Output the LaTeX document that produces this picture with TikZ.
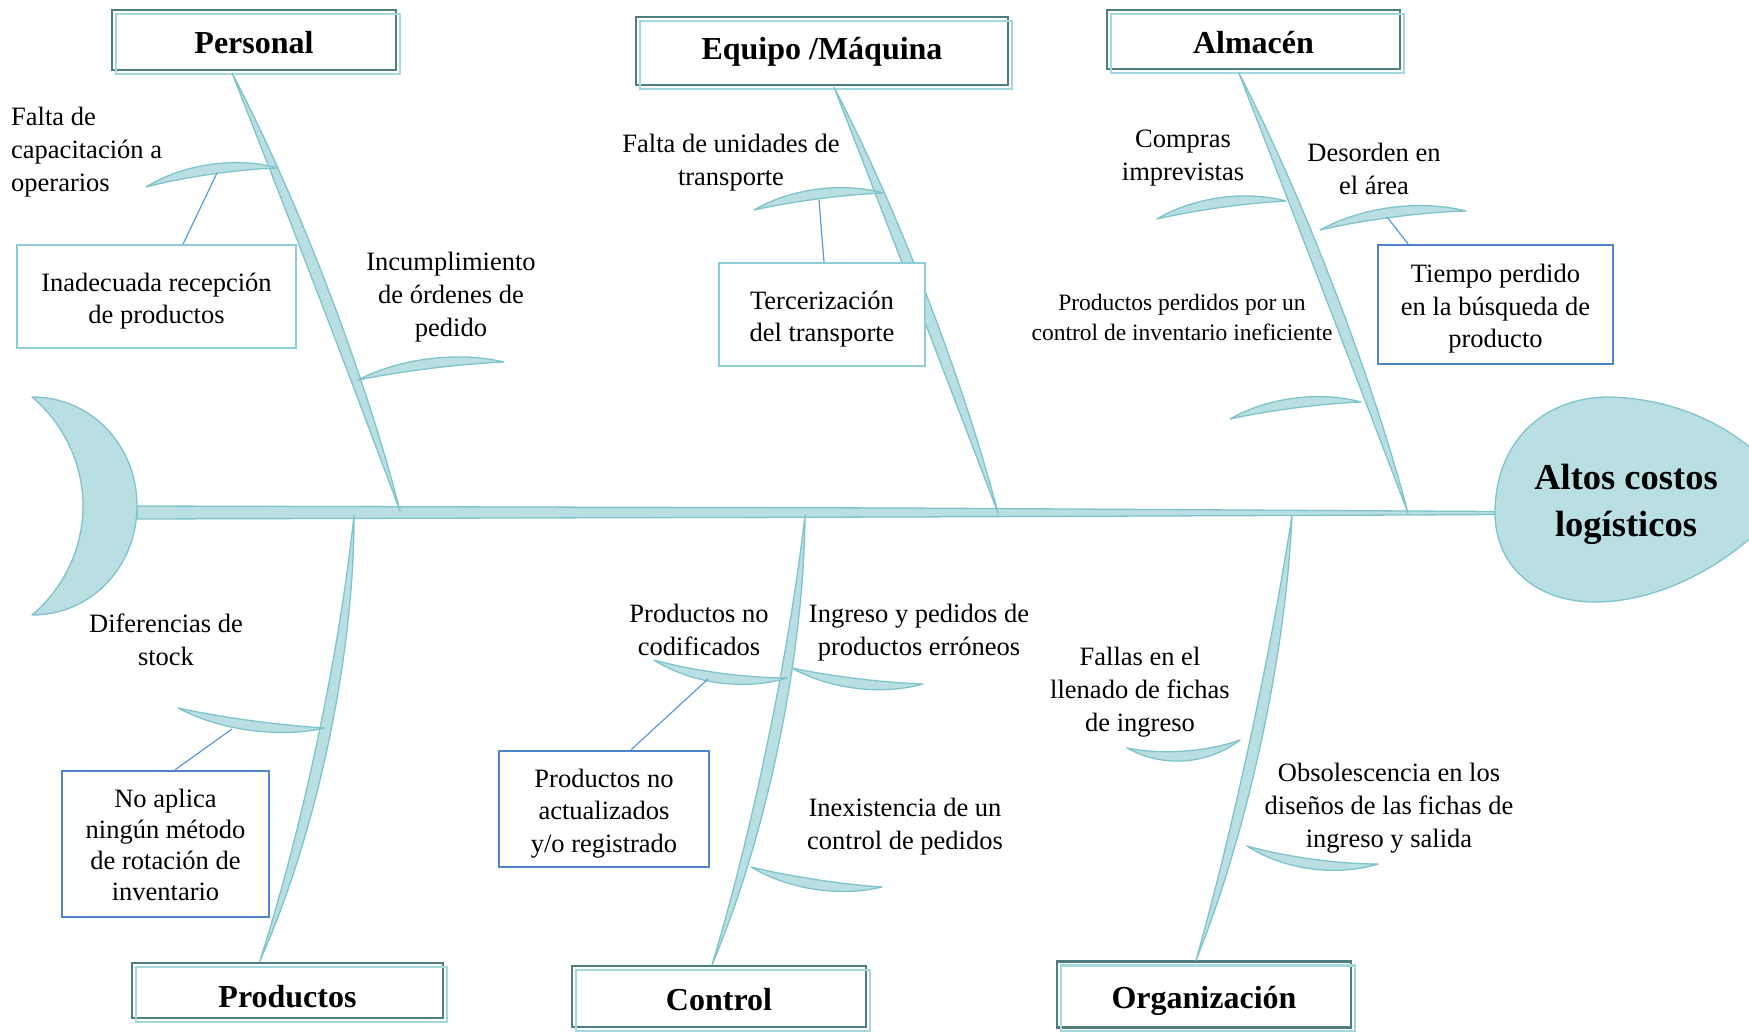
\documentclass[tikz,border=0pt]{standalone}
\usepackage{fontspec}
\setmainfont{Liberation Serif}
\usetikzlibrary{calc}

\definecolor{bonefill}{HTML}{B9DFE2}
\definecolor{boneline}{HTML}{7EC4CA}
\definecolor{headdark}{HTML}{4F7D80}
\definecolor{headlight}{HTML}{A3D9DE}
\definecolor{tealbox}{HTML}{8DCDD3}
\definecolor{bluebox}{HTML}{4C86C9}
\definecolor{linkline}{HTML}{5B9BD5}

\tikzset{
  bone/.style={fill=bonefill, draw=boneline, line width=1.3pt, line join=round},
  header/.style={draw=headdark, line width=2.2pt, fill=white, inner sep=0pt,
    text height=33pt, text depth=5pt,
    font=\fontsize{32}{38}\selectfont\bfseries,
    postaction={draw=headlight, line width=2.6pt,
      transform canvas={shift={(4pt,-4pt)}}}},
  lbl/.style={align=center, inner sep=0pt, yshift=-4.5pt,
    font=\fontsize{26.5}{33}\selectfont},
  smalllbl/.style={align=center, inner sep=0pt, font=\fontsize{23.5}{30}\selectfont},
  tealframe/.style={draw=tealbox, line width=1.6pt, fill=white},
  blueframe/.style={draw=bluebox, line width=2.4pt, fill=white},
  boxtext/.style={lbl, font=\fontsize{26.5}{32.5}\selectfont},
  link/.style={draw=linkline, line width=1.2pt},
}

% curved, tapered bone from #1 to #2; #3 = bend (pt), #4 = half thickness (pt)
\newcommand\fishbone[4]{%
  \filldraw[bone] (#1)
    .. controls ($(#1)!0.3!(#2)!#3pt+#4pt!90:(#2)$) and ($(#1)!0.7!(#2)!#3pt+#4pt!90:(#2)$) .. (#2)
    .. controls ($(#1)!0.7!(#2)!#3pt-#4pt!90:(#2)$) and ($(#1)!0.3!(#2)!#3pt-#4pt!90:(#2)$) .. cycle;}

\begin{document}
\begin{tikzpicture}[x=1pt,y=-1pt]
\useasboundingbox (0,0) rectangle (1749,1032);
\clip (0,0) rectangle (1749,1032);

% category headers
\node[header, minimum width=284pt, minimum height=60pt] (personal) at (254,40) {Personal};
\node[header, minimum width=372pt, minimum height=68pt, text height=22pt] (equipo) at (822,51) {Equipo /Máquina};
\node[header, minimum width=293pt, minimum height=59pt] (almacen) at (1253.5,39.5) {Almacén};
\node[header, minimum width=311pt, minimum height=55pt, text height=38pt] (productos) at (287.5,990.5) {Productos};
\node[header, minimum width=294pt, minimum height=61pt] (control) at (719,996.5) {Control};
\node[header, minimum width=294pt, minimum height=66pt] (organizacion) at (1204,994.5) {Organización};

% spine
\coordinate (tailR) at (137,512.5);
\coordinate (headL) at (1495,513);
\filldraw[bone] (tailR) ++(0,-6.5) -- (900,508) -- (1408,511) -- ($(headL)+(0,-1.5)$)
  -- ($(headL)+(0,1.5)$) -- (1408,515) -- (900,517) -- ($(tailR)+(0,6.5)$) -- cycle;

% junctions on the spine
\coordinate (j1) at (400,511);
\coordinate (j2) at (998,513);
\coordinate (j3) at (1408,513);
\coordinate (j4) at (354,515);
\coordinate (j5) at (805,515);
\coordinate (j6) at (1292,515);

% bone ends at the headers
\coordinate (b1) at ([xshift=-22pt,yshift=-2pt]personal.south);
\coordinate (b2) at ([xshift=12pt,yshift=-1pt]equipo.south);
\coordinate (b3) at ([xshift=-15pt,yshift=-2pt]almacen.south);
\coordinate (b4) at ([xshift=-28pt]productos.north);
\coordinate (b5) at ([xshift=-7pt]control.north);
\coordinate (b6) at ([xshift=-8pt]organizacion.north);

% main bones
\fishbone{b1}{j1}{9}{7.5}
\fishbone{b2}{j2}{8}{7.5}
\fishbone{b3}{j3}{8}{7.5}
\fishbone{j4}{b4}{22}{7.5}
\fishbone{j5}{b5}{20}{7.5}
\fishbone{j6}{b6}{16}{7.5}

% minor bones
\fishbone{146,187}{278,168}{11}{6.5}
\fishbone{358,380}{504,362}{10}{6.5}
\fishbone{754,210}{883,193}{10}{6.5}
\fishbone{1157,219}{1286,201}{10}{6.5}
\fishbone{1320,230}{1466,211}{11}{6.5}
\fishbone{1230,419}{1361,402}{10}{6.5}
\fishbone{178,708}{325,728}{-10}{6.5}
\fishbone{654,660}{787,678}{-12}{6.5}
\fishbone{792,668}{923,684}{-10}{6.5}
\fishbone{751,867}{882,887}{-10}{6.5}
\fishbone{1127,748}{1240,740}{-16}{6.5}
\fishbone{1247,846}{1378,864}{-12}{6.5}

% tail
\filldraw[bone] (32,397) .. controls (92,397) and (137,446) .. (137,506)
  .. controls (137,566) and (92,615) .. (32,615)
  .. controls (64,588) and (83,548) .. (83,506)
  .. controls (83,464) and (64,424) .. cycle;

% head
\filldraw[bone] (headL) .. controls (1495,445) and (1540,397) .. (1610,397)
  .. controls (1690,399) and (1760,440) .. (1790,495)
  .. controls (1760,540) and (1680,602) .. (1595,602)
  .. controls (1535,602) and (1495,565) .. cycle;
\node[align=center, inner sep=0pt, font=\fontsize{36.5}{47}\selectfont\bfseries]
  (effect) at (1626,504.5) {Altos costos\\logísticos};

% cause labels
\node[lbl, align=left, anchor=west] (c1) at (11,148) {Falta de\\capacitación a\\operarios};
\node[lbl] (c2) at (451,293) {Incumplimiento\\de órdenes de\\pedido};
\node[lbl] (c3) at (731,158) {Falta de unidades de\\transporte};
\node[lbl] (c4) at (1183,154) {Compras\\imprevistas};
\node[lbl] (c5) at (1374,164) {Desorden en\\el área};
\node[smalllbl] (c6) at (1182,317) {Productos perdidos por un\\control de inventario ineficiente};
\node[lbl] (c7) at (166,635) {Diferencias de\\stock};
\node[lbl] (c8) at (699,625) {Productos no\\codificados};
\node[lbl] (c9) at (919,628) {Ingreso y pedidos de\\productos erróneos};
\node[lbl] (c10) at (905,822) {Inexistencia de un\\control de pedidos};
\node[lbl] (c11) at (1140,688) {Fallas en el\\llenado de fichas\\de ingreso};
\node[lbl] (c12) at (1389,804) {Obsolescencia en los\\diseños de las fichas de\\ingreso y salida};

% sub-cause boxes
\node[tealframe, minimum width=279pt, minimum height=103pt] (s1) at (156.5,296.5) {};
\node[tealframe, minimum width=206pt, minimum height=103pt] (s2) at (822,314.5) {};
\node[blueframe, minimum width=235pt, minimum height=119pt] (s3) at (1495.5,304.5) {};
\node[blueframe, minimum width=207pt, minimum height=146pt] (s4) at (165.5,844) {};
\node[blueframe, minimum width=210pt, minimum height=116pt] (s5) at (604,809) {};
\node[boxtext] (s1t) at (s1) {Inadecuada recepción\\de productos};
\node[boxtext] (s2t) at (s2) {Tercerización\\del transporte};
\node[boxtext] (s3t) at (s3) {Tiempo perdido\\en la búsqueda de\\producto};
\node[boxtext, font=\fontsize{26.5}{31}\selectfont] (s4t) at ([yshift=3.5pt]s4) {No aplica\\ningún método\\de rotación de\\inventario};
\node[boxtext] (s5t) at (s5) {Productos no\\actualizados\\y/o registrado};

% links from minor bones to sub-cause boxes
\coordinate (k1) at (217,173);
\coordinate (k2) at (819,200);
\coordinate (k3) at (1387,217);
\coordinate (k4) at (232,729);
\coordinate (k5) at (708,679);
\draw[link] (k1) -- ([xshift=26.5pt]s1.north);
\draw[link] (k2) -- ([xshift=2pt]s2.north);
\draw[link] (k3) -- ([xshift=-87.5pt]s3.north);
\draw[link] (k4) -- ([xshift=9.5pt]s4.north);
\draw[link] (k5) -- ([xshift=27pt]s5.north);
\end{tikzpicture}
\end{document}
